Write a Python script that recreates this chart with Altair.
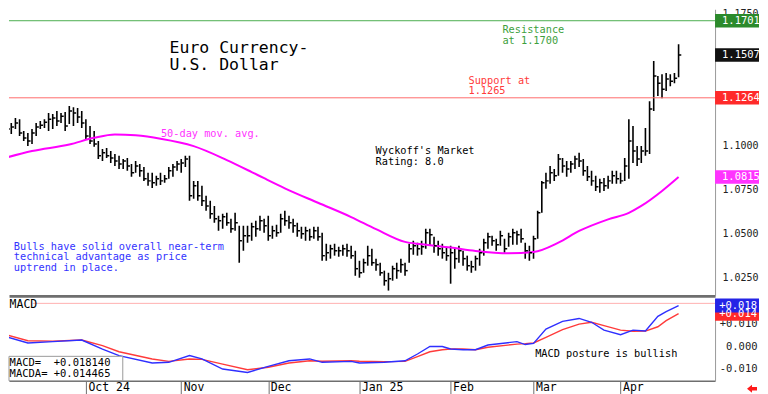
import altair as alt
import pandas as pd

# ---------------- data ----------------
idx = list(range(164))  # trading-day index, Sep 3 2024 .. Apr 21 2025

high = [1.1143, 1.1132, 1.1121, 1.1149, 1.1143, 1.1076, 1.1065, 1.1087, 1.1121, 1.1132,
        1.1143, 1.1178, 1.1172, 1.1189, 1.1178, 1.1183, 1.1217, 1.1211, 1.1206, 1.1189,
        1.1143, 1.1104, 1.1076, 1.1019, 1.0974, 1.0980, 1.0963, 1.0946, 1.0935, 1.0917,
        1.0923, 1.0889, 1.0906, 1.0889, 1.0872, 1.0839, 1.0839, 1.0822, 1.0839, 1.0827,
        1.0872, 1.0889, 1.0906, 1.0917, 1.0935, 1.0935, 1.0793, 1.0793, 1.0765, 1.0708,
        1.0680, 1.0651, 1.0595, 1.0606, 1.0612, 1.0578, 1.0612, 1.0538, 1.0538, 1.0538,
        1.0556, 1.0567, 1.0595, 1.0578, 1.0595, 1.0538, 1.0544, 1.0606, 1.0623, 1.0595,
        1.0578, 1.0556, 1.0533, 1.0533, 1.0521, 1.0533, 1.0533, 1.0499, 1.0437, 1.0431,
        1.0437, 1.0420, 1.0431, 1.0437, 1.0425, 1.0397, 1.0340, 1.0352, 1.0425, 1.0408,
        1.0352, 1.0329, 1.0284, 1.0272, 1.0312, 1.0329, 1.0352, 1.0329, 1.0437, 1.0454,
        1.0442, 1.0454, 1.0521, 1.0521, 1.0476, 1.0454, 1.0437, 1.0420, 1.0425, 1.0408,
        1.0425, 1.0397, 1.0369, 1.0340, 1.0369, 1.0408, 1.0465, 1.0499, 1.0482, 1.0465,
        1.0510, 1.0465, 1.0499, 1.0521, 1.0510, 1.0521, 1.0442, 1.0425, 1.0482, 1.0623,
        1.0793, 1.0839, 1.0878, 1.0861, 1.0946, 1.0923, 1.0906, 1.0906, 1.0935, 1.0952,
        1.0917, 1.0878, 1.0850, 1.0822, 1.0805, 1.0810, 1.0822, 1.0850, 1.0850, 1.0839,
        1.0923, 1.1143, 1.1104, 1.0991, 1.0991, 1.1093, 1.1245, 1.1472, 1.1387, 1.1398,
        1.1404, 1.1398, 1.1404, 1.1568]

low = [1.1048, 1.1031, 1.1059, 1.1087, 1.1048, 1.1019, 1.0991, 1.1002, 1.1048, 1.1087,
       1.1093, 1.1076, 1.1087, 1.1104, 1.1121, 1.1076, 1.1115, 1.1104, 1.1121, 1.1093,
       1.1031, 1.1002, 1.0986, 1.0917, 1.0906, 1.0923, 1.0895, 1.0878, 1.0861, 1.0861,
       1.0850, 1.0816, 1.0839, 1.0816, 1.0793, 1.0765, 1.0753, 1.0765, 1.0770, 1.0782,
       1.0805, 1.0816, 1.0850, 1.0839, 1.0872, 1.0680, 1.0691, 1.0680, 1.0651, 1.0623,
       1.0578, 1.0556, 1.0510, 1.0521, 1.0538, 1.0499, 1.0510, 1.0329, 1.0397, 1.0442,
       1.0454, 1.0476, 1.0510, 1.0499, 1.0454, 1.0465, 1.0476, 1.0499, 1.0538, 1.0521,
       1.0499, 1.0476, 1.0465, 1.0454, 1.0454, 1.0465, 1.0454, 1.0340, 1.0340, 1.0352,
       1.0369, 1.0363, 1.0369, 1.0363, 1.0352, 1.0255, 1.0244, 1.0272, 1.0312, 1.0312,
       1.0284, 1.0255, 1.0199, 1.0171, 1.0227, 1.0238, 1.0272, 1.0255, 1.0329, 1.0374,
       1.0369, 1.0374, 1.0408, 1.0425, 1.0386, 1.0369, 1.0352, 1.0340, 1.0210, 1.0295,
       1.0329, 1.0312, 1.0284, 1.0272, 1.0284, 1.0312, 1.0369, 1.0408, 1.0425, 1.0397,
       1.0425, 1.0386, 1.0420, 1.0431, 1.0431, 1.0442, 1.0352, 1.0340, 1.0352, 1.0465,
       1.0612, 1.0748, 1.0776, 1.0793, 1.0822, 1.0839, 1.0816, 1.0839, 1.0861, 1.0872,
       1.0822, 1.0793, 1.0765, 1.0736, 1.0725, 1.0736, 1.0748, 1.0776, 1.0776, 1.0776,
       1.0793, 1.0805, 1.0895, 1.0878, 1.0895, 1.0935, 1.0946, 1.1189, 1.1274, 1.1262,
       1.1302, 1.1330, 1.1347, 1.1381]

close = [1.1104, 1.1087, 1.1098, 1.1121, 1.1065, 1.1036, 1.1019, 1.1065, 1.1098, 1.1109,
         1.1126, 1.1143, 1.1149, 1.1132, 1.1160, 1.1104, 1.1189, 1.1178, 1.1155, 1.1121,
         1.1048, 1.1019, 1.1002, 1.0935, 1.0952, 1.0935, 1.0923, 1.0906, 1.0889, 1.0906,
         1.0878, 1.0839, 1.0878, 1.0850, 1.0805, 1.0793, 1.0782, 1.0805, 1.0793, 1.0805,
         1.0850, 1.0872, 1.0889, 1.0895, 1.0917, 1.0708, 1.0765, 1.0708, 1.0680, 1.0651,
         1.0606, 1.0578, 1.0567, 1.0589, 1.0556, 1.0521, 1.0556, 1.0454, 1.0482, 1.0482,
         1.0533, 1.0521, 1.0567, 1.0538, 1.0482, 1.0510, 1.0499, 1.0578, 1.0567, 1.0556,
         1.0538, 1.0510, 1.0493, 1.0510, 1.0476, 1.0510, 1.0476, 1.0369, 1.0386, 1.0408,
         1.0397, 1.0397, 1.0408, 1.0397, 1.0369, 1.0295, 1.0272, 1.0329, 1.0369, 1.0329,
         1.0318, 1.0272, 1.0227, 1.0238, 1.0295, 1.0284, 1.0318, 1.0284, 1.0408, 1.0425,
         1.0408, 1.0420, 1.0499, 1.0488, 1.0425, 1.0408, 1.0386, 1.0369, 1.0386, 1.0352,
         1.0397, 1.0352, 1.0312, 1.0306, 1.0352, 1.0386, 1.0442, 1.0476, 1.0454, 1.0431,
         1.0482, 1.0408, 1.0476, 1.0499, 1.0488, 1.0465, 1.0397, 1.0386, 1.0465, 1.0612,
         1.0782, 1.0793, 1.0839, 1.0822, 1.0917, 1.0878, 1.0861, 1.0889, 1.0917, 1.0906,
         1.0850, 1.0816, 1.0793, 1.0759, 1.0782, 1.0765, 1.0793, 1.0822, 1.0805, 1.0793,
         1.0878, 1.1019, 1.0963, 1.0917, 1.0963, 1.0963, 1.1200, 1.1387, 1.1347, 1.1313,
         1.1370, 1.1358, 1.1375, 1.1507]

ma_idx = [0, 7, 16, 22, 27, 32, 38, 46, 54, 60, 63, 68, 76, 84, 90, 97, 101, 108,
          114, 122, 128, 134, 139, 146, 151, 154, 159, 163]
ma_val = [1.0920, 1.0962, 1.0999, 1.1037, 1.1056, 1.1051, 1.1032, 1.0990, 1.0911,
          1.0843, 1.0808, 1.0751, 1.0669, 1.0588, 1.0519, 1.0447, 1.0434, 1.0415,
          1.0396, 1.0383, 1.0390, 1.0443, 1.0509, 1.0575, 1.0612, 1.0651, 1.0736, 1.0815]

macd_idx = [0, 6, 12, 19, 24, 28, 36, 40, 45, 48, 53, 59, 64, 69, 74, 77, 84, 86, 92, 97,
            100, 103, 106, 108, 111, 114, 117, 124, 126, 128, 131, 135, 139, 142, 145, 149,
            152, 155, 158, 160, 163]
macd_val = [0.0047, 0.0015, 0.0021, 0.0028, -0.0012, -0.0041, -0.0074, -0.0071, -0.0041,
            -0.0056, -0.0101, -0.0116, -0.0089, -0.0064, -0.0056, -0.0071, -0.0067, -0.0074,
            -0.0071, -0.0064, -0.0034, 0.0000, -0.0001, -0.0012, -0.0015, -0.0015, 0.0006,
            0.0021, 0.0008, 0.0013, 0.0077, 0.0111, 0.0124, 0.0107, 0.0072, 0.0052, 0.0072,
            0.0068, 0.0133, 0.0154, 0.0181]
signal_val = [0.0055, 0.0025, 0.0023, 0.0028, 0.0003, -0.0024, -0.0056, -0.0067, -0.0056,
              -0.0058, -0.0079, -0.0104, -0.0093, -0.0074, -0.0064, -0.0066, -0.0064, -0.0066,
              -0.0068, -0.0067, -0.0046, -0.0024, -0.0015, -0.0012, -0.0012, -0.0015, -0.0004,
              0.0010, 0.0012, 0.0015, 0.0040, 0.0074, 0.0099, 0.0107, 0.0092, 0.0072, 0.0067,
              0.0068, 0.0087, 0.0114, 0.0145]

month_ticks = [20, 43, 64, 86, 108, 128, 149]
month_labels = ["Oct 24", "Nov", "Dec", "Jan 25", "Feb", "Mar", "Apr"]
price_ticks = [1.025, 1.05, 1.075, 1.1, 1.175]
macd_ticks = [-0.01, 0.0, 0.01]

resistance = 1.1701
support = 1.1264
last_close = 1.1507
last_ma = 1.0815
macd_last = 0.018140
macda_last = 0.014465
macd_ref_line = 0.0191

# ---------------- styling ----------------
MONO = "DejaVu Sans Mono"
NB = "\u00a0"
W, H1, H2 = 707, 287, 82
RIGHT = 751  # right edge of the value boxes (keeps the page from overflowing)
xs = alt.Scale(domain=[1.45, 171.8], nice=False, zero=False)
ys = alt.Scale(domain=[1.0141, 1.1766], nice=False, zero=False)
ms = alt.Scale(domain=[-0.0153, 0.0211], nice=False, zero=False)

# axes (the same axis object is given to every layer of a panel so they merge)
x_price_axis = alt.Axis(labels=False, ticks=False, domain=True, domainColor="#6e6e6e",
                        domainWidth=3, grid=False, title=None)
y_price_axis = alt.Axis(orient="right", values=price_ticks, format=".4f", labelAlign="left",
                        labelPadding=7, labelOffset=1, ticks=False, domainColor="#9a9a9a",
                        grid=False, title=None, labelFont=MONO, labelFontSize=10,
                        labelColor="#222222")
lab_expr = " : ".join(f"datum.value == {t} ? '{l}'" for t, l in zip(month_ticks, month_labels)) + " : ''"
x_macd_axis = alt.Axis(values=month_ticks, labelExpr=lab_expr, tickSize=15, tickColor="#6e6e6e",
                       domainColor="#6e6e6e", domainWidth=1.5, labelAlign="left", labelOffset=2,
                       labelPadding=-14.5, labelFont=MONO, labelFontSize=11.5, labelColor="black",
                       grid=False, title=None, labelFlush=False, labelOverlap=False)
y_macd_axis = alt.Axis(orient="right", values=macd_ticks,
                       labelExpr="datum.value > 0.0001 ? '+' + format(datum.value, '.3f') : replace(format(datum.value, '.3f'), '\u2212', '-')",
                       labelAlign="right", labelPadding=42, ticks=False, domainColor="#9a9a9a",
                       grid=False, title=None, labelFont=MONO, labelFontSize=10.5,
                       labelColor="#222222")


def PX(f):
    return alt.X(f, scale=xs, axis=x_price_axis)


def PY(f):
    return alt.Y(f, scale=ys, axis=y_price_axis)


def MX(f):
    return alt.X(f, scale=xs, axis=x_macd_axis)


def MY(f):
    return alt.Y(f, scale=ms, axis=y_macd_axis)


def ptext(x, y, s, color, size, lh, fx, fy):
    df = pd.DataFrame({"x": [x], "y": [y], "t": [s]})
    return alt.Chart(df).mark_text(
        align="left", baseline="alphabetic", font=MONO, fontSize=size,
        color=color, lineBreak="\n", lineHeight=lh
    ).encode(x=fx("x:Q"), y=fy("y:Q"), text="t:N")


bars = pd.DataFrame({"i": idx, "high": high, "low": low, "close": close})
bars["i2"] = bars["i"] + 0.65

# ---------------- price panel ----------------
levels = pd.DataFrame({"v": [resistance, support], "c": ["#4caf50", "#ff6b6b"]})
level_rules = alt.Chart(levels).mark_rule(strokeWidth=1).encode(
    y=PY("v:Q"), color=alt.Color("c:N", scale=None))

ma_df = pd.DataFrame({"x": ma_idx, "v": ma_val})
ma_line = alt.Chart(ma_df).mark_line(color="#ff00ff", strokeWidth=2, clip=True,
                                     interpolate="monotone").encode(x=PX("x:Q"), y=PY("v:Q"))

hl = alt.Chart(bars).mark_rule(color="black", strokeWidth=1.6, clip=True).encode(
    x=PX("i:Q"), y=PY("low:Q"), y2="high:Q")
ct = alt.Chart(bars).mark_rule(color="black", strokeWidth=1.5, clip=True).encode(
    x=PX("i:Q"), x2="i2:Q", y=PY("close:Q"))

title_t = ptext(40.2, 1.1517, "Euro Currency-\nU.S. Dollar", "black", 16.5, 16.5, PX, PY)
res_t = ptext(120.5, 1.1633, "Resistance\nat 1.1700", "#3d9f3d", 10.3, 11, PX, PY)
sup_t = ptext(112.3, 1.1345, "Support at\n1.1265", "#ff3b3b", 10.3, 11, PX, PY)
wyck_t = ptext(89.9, 1.0944, "Wyckoff's Market\nRating: 8.0", "black", 10.3, 10.8, PX, PY)
ma_t = ptext(38.1, 1.1043, "50-day mov. avg.", "#ff33ff", 10.3, 10.3, PX, PY)
bull_t = ptext(2.6, 1.0403, "Bulls have solid overall near-term\ntechnical advantage as price\nuptrend in place.",
               "#3333ff", 10.3, 10.6, PX, PY)

pbox = pd.DataFrame({"v": [resistance, last_close, support, last_ma],
                     "c": ["#2b8a2b", "#111111", "#ff2a2a", "#ff33ff"]})
pbox["label"] = pbox["v"].map(lambda v: f"{v:.4f}")
pbox_rect = alt.Chart(pbox).transform_calculate(
    top="datum.v + 0.0038", bot="datum.v - 0.0038"
).mark_rect().encode(
    x=alt.value(W), x2=alt.value(RIGHT), y=PY("top:Q"), y2="bot:Q",
    color=alt.Color("c:N", scale=None))
pbox_text = alt.Chart(pbox).mark_text(align="left", baseline="middle", font=MONO,
                                      fontSize=10.5, color="white").encode(
    x=alt.value(W + 7), y=PY("v:Q"), text="label:N")

price = alt.layer(hl, level_rules, ma_line, ct, title_t, res_t, sup_t, wyck_t, ma_t, bull_t,
                  pbox_rect, pbox_text).properties(width=W, height=H1)

# ---------------- MACD panel ----------------
mdf = pd.DataFrame({"x": macd_idx, "macd": macd_val, "sig": signal_val})
sig_line = alt.Chart(mdf).mark_line(color="#ff3b3b", strokeWidth=1.4, clip=True).encode(
    x=MX("x:Q"), y=MY("sig:Q"))
macd_line = alt.Chart(mdf).mark_line(color="#2f2fff", strokeWidth=1.4, clip=True).encode(
    x=MX("x:Q"), y=MY("macd:Q"))

ref_rule = alt.Chart(pd.DataFrame({"x": [7.2], "x2": [171.8], "v": [macd_ref_line]})).mark_rule(
    color="#ffb0b0", strokeWidth=1).encode(x=MX("x:Q"), x2="x2:Q", y=MY("v:Q"))

leg_box = alt.Chart(pd.DataFrame({"x": [1.45], "x2": [28.9], "y": [-0.00444], "y2": [-0.0153]})).mark_rect(
    fill="white", stroke="#9a9a9a", strokeWidth=1).encode(
    x=MX("x:Q"), x2="x2:Q", y=MY("y:Q"), y2="y2:Q")
leg_str = f"MACD={NB*2}+{macd_last:.6f}\nMACDA={NB}+{macda_last:.6f}"
leg_t = ptext(1.6, -0.0089, leg_str, "black", 10.5, 10.5, MX, MY)
macd_t = ptext(1.6, 0.0169, "MACD", "black", 11.5, 11, MX, MY)
post_t = ptext(128.4, -0.0046, "MACD posture is bullish", "black", 10.3, 10, MX, MY)

mbox = pd.DataFrame({"v": [macda_last, macd_last], "c": ["#ff2a2a", "#2424e6"]})
mbox["label"] = mbox["v"].map(lambda v: f"+{v:.3f}")
mbox_rect = alt.Chart(mbox).transform_calculate(
    top="datum.v + 0.0031", bot="datum.v - 0.0031"
).mark_rect().encode(
    x=alt.value(W), x2=alt.value(RIGHT), y=MY("top:Q"), y2="bot:Q",
    color=alt.Color("c:N", scale=None))
mbox_text = alt.Chart(mbox).mark_text(align="right", baseline="middle", font=MONO,
                                      fontSize=10.5, color="white").encode(
    x=alt.value(W + 42), y=MY("v:Q"), text="label:N")

arrow = alt.Chart(pd.DataFrame({"a": [0]})).mark_point(
    shape="M-1,0L0,-0.8L0,-0.35L1,-0.35L1,0.35L0,0.35L0,0.8Z", filled=True, color="#ff1a1a",
    size=100, opacity=1).encode(x=alt.value(744), y=alt.value(90))

macd = alt.layer(sig_line, ref_rule, macd_line, leg_box, leg_t, macd_t, post_t,
                 mbox_rect, mbox_text, arrow).properties(width=W, height=H2)

chart = alt.vconcat(price, macd, spacing=2).resolve_scale(
    x="independent", y="independent").properties(
    padding={"left": 0, "top": -1, "right": 0, "bottom": 0}).configure_view(strokeWidth=0)

chart.save("out.html", embed_options={"renderer": "svg", "actions": False})
